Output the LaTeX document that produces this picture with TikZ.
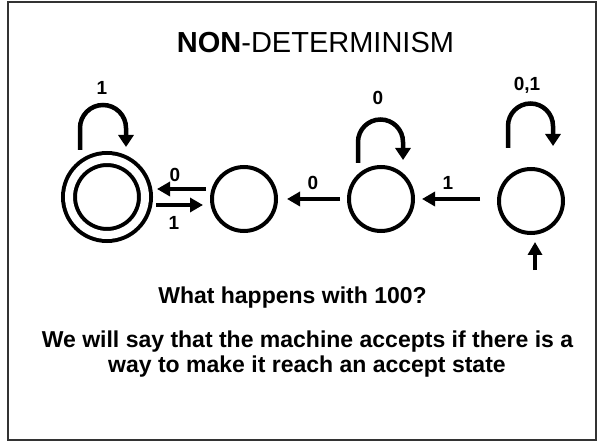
\documentclass[tikz,border=0pt]{standalone}
\usepackage{fontspec}
\setmainfont{Liberation Sans}
\usetikzlibrary{arrows.meta,calc}
\begin{document}
\begin{tikzpicture}[x=1pt,y=1pt,
  state/.style={circle,draw,line width=4pt,minimum size=64pt,inner sep=0pt,outer sep=0pt},
  accstate/.style={circle,draw,line width=4pt,double,double distance=8pt,minimum size=76pt,inner sep=0pt,outer sep=0pt},
  arr/.style={line width=4.5pt,-{Triangle[length=13pt,width=14pt]}},
  looparr/.style={line width=4.5pt,-{Triangle[length=12pt,width=15pt]}},
  lbl/.style={font=\fontsize{19}{19}\selectfont\bfseries,inner sep=0pt},
  txt/.style={font=\fontsize{23}{25}\selectfont\bfseries,inner sep=0pt,anchor=base}]
\useasboundingbox (0,0) rectangle (599,442);
\draw[line width=2pt,black!80] (8,2) rectangle (596,440);
\node[anchor=base,inner sep=0pt,font=\fontsize{29}{29}\selectfont] (title) at (315.5,389) {\textbf{NON}-DETERMINISM};
% states
\node[accstate] (acc) at (107,245) {};
\node[state] (s2) at (244,243) {};
\node[state] (s3) at (381,243) {};
\node[state] (s4) at (531,241) {};
% transitions between states
\draw[arr] ($(s2.west)+(-6,10)$) -- ($(acc.east)+(12,8)$);
\draw[arr] ($(acc.east)+(11,-8)$) -- ($(s2.west)+(-9,-6)$);
\draw[arr] ($(s3.west)+(-9,0)$) -- ($(s2.east)+(11,0)$);
\draw[arr] ($(s4.west)+(-19,2)$) -- ($(s3.east)+(9,0)$);
\node[lbl] (t1) at (175,267) {0};
\node[lbl] (t2) at (174,219) {1};
\node[lbl] (t3) at (313,259) {0};
\node[lbl] (t4) at (448,259) {1};
% self loops
\draw[looparr] ($(acc)+(-27,47)$) -- ++(0,22) arc[start angle=180,end angle=0,radius=23pt] -- ++(0,-19);
\draw[looparr] ($(s3)+(-23,36)$) -- ++(0,21) arc[start angle=180,end angle=0,radius=22.5pt] -- ++(0,-18);
\draw[looparr] ($(s4)+(-23,53)$) -- ++(0,22) arc[start angle=180,end angle=0,radius=22.5pt] -- ++(0,-20);
\node[lbl] (l1) at (102,354) {1};
\node[lbl] (l3) at (378,344) {0};
\node[lbl] (l4) at (527,357) {0,1};
% start arrow
\coordinate (init) at ($(s4.south)+(4,-37)$);
\draw[arr] (init) -- ($(s4.south)+(4,-9)$);
% texts
\node[txt] (q) at (292.5,139) {What happens with 100?};
\node[txt] (p1) at (307.5,95) {We will say that the machine accepts if there is a};
\node[txt] (p2) at (307,70) {way to make it reach an accept state};
\end{tikzpicture}
\end{document}
